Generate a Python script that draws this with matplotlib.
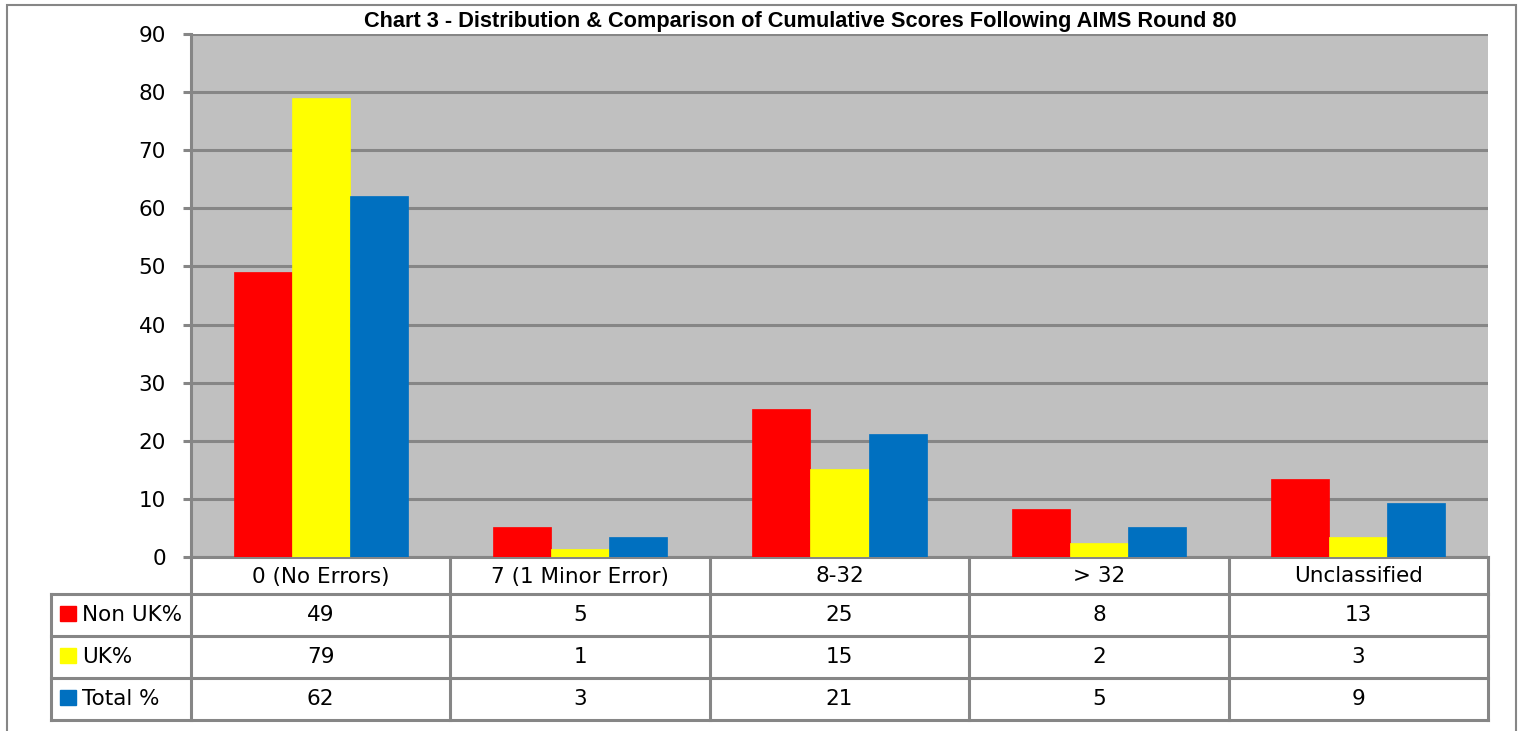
import numpy as np
import matplotlib
matplotlib.use('Agg')
from matplotlib import pyplot as plt
from matplotlib.patches import Rectangle
from matplotlib.lines import Line2D

categories = ['0 (No Errors)', '7 (1 Minor Error)', '8-32', '> 32', 'Unclassified']
series_names = ['Non UK%', 'UK%', 'Total %']
non_uk = [49.0, 5.2, 25.4, 8.3, 13.4]
uk = [79.0, 1.4, 15.1, 2.4, 3.4]
total = [62.1, 3.4, 21.2, 5.2, 9.3]
colors = ['#FF0000', '#FFFF00', '#0070C0']
title = 'Chart 3 - Distribution & Comparison of Cumulative Scores Following AIMS Round 80'

W, H = 1521, 731
GRAY = '#868686'


def fx(px):
    return px / W


def fy(py):
    return 1 - py / H


fig = plt.figure(figsize=(W / 100, H / 100), dpi=100)

# outer chart frame
fig.add_artist(Rectangle((fx(7), fy(740)), fx(1516 - 7), (740 - 5) / H,
                         transform=fig.transFigure, fill=False,
                         edgecolor=GRAY, lw=1.5))

left, right, top, bottom = 191, 1488, 34, 557
ax = fig.add_axes([fx(left), fy(bottom), fx(right - left), (bottom - top) / H])
ax.set_facecolor('#C0C0C0')

series = [non_uk, uk, total]
n = len(categories)
x = np.arange(n)
width = 0.224
for k, (vals, col) in enumerate(zip(series, colors)):
    ax.bar(x + (k - 1) * width, vals, width, color=col, edgecolor=col, lw=0.5, zorder=3)

ax.set_xlim(-0.5, n - 0.5)
ax.set_ylim(0, 90)
ax.set_yticks(np.arange(0, 91, 10))
ax.set_xticks([])
ax.grid(axis='y', color=GRAY, lw=2.2, zorder=1)
ax.set_axisbelow(True)
for s in ['top', 'right']:
    ax.spines[s].set_visible(False)
for s in ['left', 'bottom']:
    ax.spines[s].set_color(GRAY)
    ax.spines[s].set_linewidth(2.2)
ax.tick_params(axis='y', direction='out', length=6, width=2.2, color=GRAY,
               pad=12, labelsize=15.5)

fig.text(fx(800), fy(22), title, ha='center', va='center',
         fontsize=15.7, fontweight='bold', family='Liberation Sans')

# data table under the plot
row_edges = [557, 594, 636, 678, 720]
col_edges = [left + (right - left) * i / n for i in range(n + 1)]
lab_left = 51


def hline(y, x0, x1):
    fig.add_artist(Line2D([fx(x0), fx(x1)], [fy(y), fy(y)], transform=fig.transFigure,
                          color=GRAY, lw=2.2))


def vline(xp, y0, y1):
    fig.add_artist(Line2D([fx(xp), fx(xp)], [fy(y0), fy(y1)], transform=fig.transFigure,
                          color=GRAY, lw=2.2))


for y in row_edges[1:]:
    hline(y, lab_left, right)
for xp in col_edges:
    vline(xp, row_edges[0], row_edges[-1])
vline(lab_left, row_edges[1], row_edges[-1])

for i, cat in enumerate(categories):
    cx = (col_edges[i] + col_edges[i + 1]) / 2
    fig.text(fx(cx), fy((row_edges[0] + row_edges[1]) / 2 + 1), cat,
             ha='center', va='center', fontsize=15.5)
    for r, vals in enumerate(series):
        cy = (row_edges[r + 1] + row_edges[r + 2]) / 2
        fig.text(fx(cx), fy(cy), f'{round(vals[i])}', ha='center', va='center', fontsize=15.5)

for r, (name, col) in enumerate(zip(series_names, colors)):
    cy = (row_edges[r + 1] + row_edges[r + 2]) / 2
    fig.add_artist(Rectangle((fx(60), fy(cy + 6)), fx(16), 15 / H,
                             transform=fig.transFigure, color=col))
    fig.text(fx(82), fy(cy), name, ha='left', va='center', fontsize=15.5)

fig.savefig('out.png', dpi=100)
